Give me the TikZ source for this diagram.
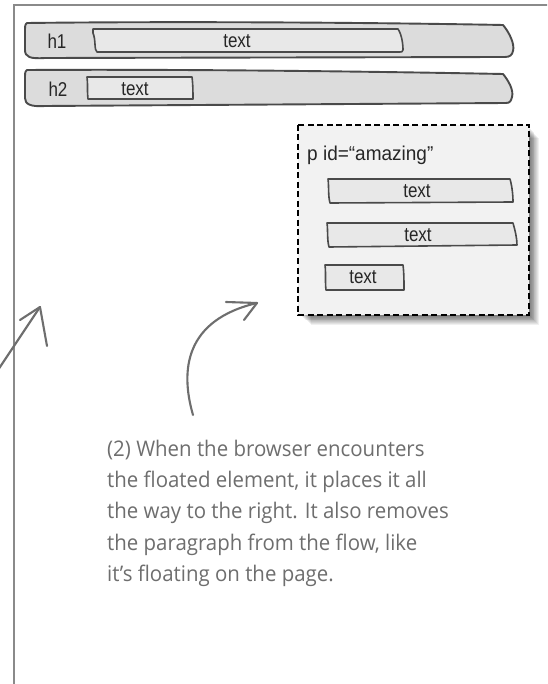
\documentclass[tikz,border=0pt]{standalone}
\usepackage{fontspec}
\setmainfont{Liberation Sans}
\newfontfamily\labfont[FakeStretch=0.85]{Liberation Sans}
\newfontfamily\pidfont[FakeStretch=0.95]{Liberation Sans}
\newfontfamily\handfont[FakeStretch=0.95]{Open Sans}
\definecolor{framecol}{HTML}{8A8A8A}
\definecolor{inkcol}{HTML}{4A4A4A}
\definecolor{barfill}{HTML}{DCDCDC}
\definecolor{boxfill}{HTML}{E8E8E8}
\definecolor{floatfill}{HTML}{F2F2F2}
\definecolor{handcol}{HTML}{6E6E6E}
\definecolor{txtcol}{HTML}{262626}
\tikzset{
  bar/.style={draw=inkcol, fill=barfill, line width=1.9pt, line join=round},
  inbox/.style={draw=inkcol, fill=boxfill, line width=1.6pt, line join=round},
  lab/.style={font=\labfont\fontsize{20}{22}\selectfont, text=txtcol, inner sep=0pt},
  hand/.style={font=\handfont\fontsize{21.5}{31.2}\selectfont, text=handcol, align=left, inner sep=0pt},
  arr/.style={draw=handcol, line width=2.1pt, line cap=round, line join=round},
}
\begin{document}
\begin{tikzpicture}[x=1pt,y=-1pt]
\useasboundingbox (0,0) rectangle (547,684);
\fill[white] (0,0) rectangle (547,684);
\clip (0,0) rectangle (547,684);
% outer frame
\draw[framecol, line width=2pt] (14,690) -- (14,5) -- (550,5);
% h1 bar
\draw[bar] (27,23) .. controls (200,21) and (400,23) .. (503,25)
  .. controls (509,32) and (515,44) .. (513,51)
  .. controls (512,55) and (510,57) .. (505,57)
  -- (45,58) .. controls (30,59) and (25,57) .. (25,50)
  -- (25,29) .. controls (25,25) and (26,23) .. (27,23) -- cycle;
\draw[inbox] (93,29) -- (398,29) .. controls (402,35) and (403,45) .. (403,50)
  .. controls (403,52) and (401,52) .. (400,52) -- (97,52)
  .. controls (94,50) and (96,40) .. (93,33) -- cycle;
\node[lab] (h1) at (57,41) {h1};
\node[lab] (h1t) at (237,41) {text};
% h2 bar
\draw[bar] (27,70) .. controls (200,69) and (400,72) .. (503,74)
  .. controls (508,80) and (514,90) .. (512,97)
  .. controls (511,101) and (510,103) .. (506,103)
  -- (45,106) .. controls (30,107) and (25,104) .. (25,98)
  -- (25,76) .. controls (25,72) and (26,70) .. (27,70) -- cycle;
\draw[inbox] (87,77) -- (192,77) .. controls (193,85) and (193,93) .. (193,99)
  -- (88,99) .. controls (87,92) and (88,84) .. (87,77) -- cycle;
\node[lab] (h2) at (58,89) {h2};
\node[lab] (h2t) at (135,89) {text};
% floated paragraph with shadow
\foreach \d in {1,...,11}{
  \fill[black, opacity=0.06] (300+\d,127+\d) rectangle (529+\d*0.9,315+\d*0.9);
}
\draw[fill=floatfill, draw=black, line width=2.2pt, dash pattern=on 6pt off 3.5pt]
  (298,125) rectangle (529,315);
\node[font=\pidfont\fontsize{20}{22}\selectfont, text=txtcol, inner sep=0pt, anchor=west] (pid) at (307,155) {p id=“amazing”};
\draw[inbox] (328,179) -- (510,179) .. controls (512,186) and (513,195) .. (513,202)
  -- (330,203) .. controls (328,196) and (329,186) .. (328,179) -- cycle;
\node[lab] (t1) at (417,191) {text};
\draw[inbox] (327,223) -- (513,223) .. controls (515,230) and (517,238) .. (517,245)
  -- (329,247) .. controls (327,240) and (328,230) .. (327,223) -- cycle;
\node[lab] (t2) at (418,235) {text};
\draw[inbox] (325,265) -- (403,265) .. controls (404,273) and (404,282) .. (404,290)
  -- (326,290) .. controls (325,282) and (326,273) .. (325,265) -- cycle;
\node[lab] (t3) at (363,277) {text};
% arrows
\coordinate (a1s) at (-2,370);
\coordinate (a1e) at (40,307);
\draw[arr] (a1s) -- (a1e);
\draw[arr] (20,320) -- (a1e) -- (47,346);
\coordinate (a2s) at (193,415);
\coordinate (a2e) at (257,303);
\draw[arr] (a2s) .. controls (180,370) and (185,320) .. (a2e);
\draw[arr] (226,302) -- (a2e) -- (244,320);
% annotation
\node[hand, anchor=north west] (note) at (107,440) {(2) When the browser encounters\\
the floated element, it places it all\\
the way to the right. It also removes\\
the paragraph from the flow, like\\
it’s floating on the page.};
\end{tikzpicture}
\end{document}
